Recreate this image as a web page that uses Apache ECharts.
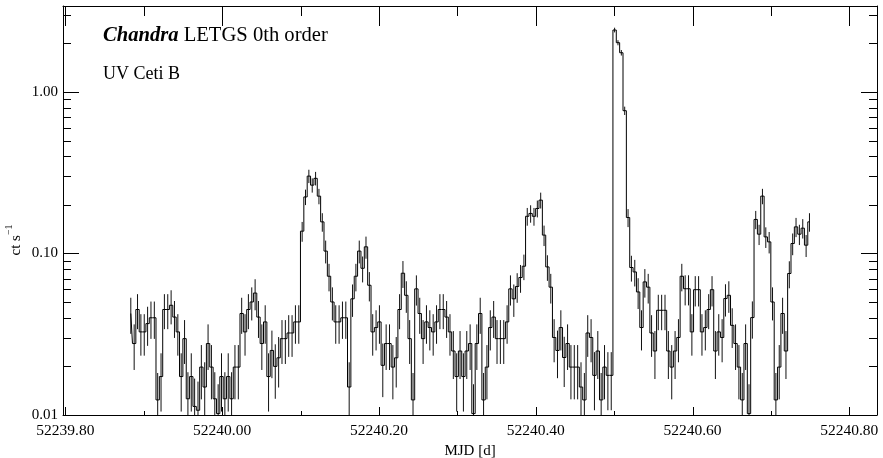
<!DOCTYPE html>
<html>
<head>
<meta charset="utf-8">
<script src="https://cdn.jsdelivr.net/npm/echarts@6.0.0/dist/echarts.min.js"></script>
<style>
  html, body { margin: 0; padding: 0; background: #fff; }
  #chart { width: 883px; height: 458px; }
</style>
</head>
<body>
<div id="chart"></div>
<script>
// ---- axis ranges ----
const X_MIN = 52239.79694;
const X_MAX = 52240.83534;
const Y_MIN = 0.01;
const Y_MAX = 3.408;

// ---- tick values ----
const X_MAJOR = [52239.8, 52240.0, 52240.2, 52240.4, 52240.6, 52240.8];
const X_MINOR = [52239.9, 52240.1, 52240.3, 52240.5, 52240.7];
const Y_MAJOR = [0.01, 0.1, 1];
const Y_MINOR = [0.02, 0.03, 0.04, 0.05, 0.06, 0.07, 0.08, 0.09,
                 0.2, 0.3, 0.4, 0.5, 0.6, 0.7, 0.8, 0.9, 2, 3];

// ---- light-curve bins (MJD of first bin centre, bin width in days) ----
const BIN_START = 52239.88343;
const BIN_WIDTH = 0.004286;

// count rate per bin [ct/s]
const RATE = [
  0.0425,0.0277,0.045,0.0327,0.0327,0.0368,0.040,0.040,0.0124,0.0173,
  0.045,0.045,0.0478,0.0404,0.0327,0.0173,0.0297,0.0126,0.0173,0.0113,
  0.0107,0.0198,0.0149,0.0277,0.0198,0.0126,0.0102,0.0173,0.0126,0.0173,
  0.0126,0.0198,0.0198,0.0425,0.0327,0.045,0.0501,0.0569,0.0404,0.0277,
  0.0377,0.0173,0.0251,0.0200,0.0226,0.0297,0.0297,0.0322,0.0322,0.0377,
  0.0377,0.1375,0.224,0.3015,0.265,0.292,0.2265,0.157,0.1035,0.0723,
  0.0501,0.0377,0.0377,0.040,0.040,0.0149,0.0524,0.0723,0.1035,0.081,
  0.110,0.0636,0.0327,0.0348,0.0377,0.0203,0.0277,0.0277,0.0198,0.0226,
  0.045,0.0755,0.0551,0.0297,0.0124,0.0604,0.0425,0.0297,0.0377,0.0348,
  0.0327,0.0377,0.045,0.045,0.0404,0.0327,0.0249,0.0173,0.0249,0.0173,
  0.0249,0.0277,0.0102,0.0277,0.0425,0.0124,0.0198,0.0348,0.0404,0.0297,
  0.0297,0.0297,0.0377,0.0604,0.0524,0.0625,0.0710,0.0834,0.170,0.177,
  0.170,0.190,0.214,0.130,0.0826,0.0619,0.0302,0.0251,0.0348,0.0227,
  0.0277,0.0198,0.0198,0.0198,0.0149,0.0124,0.0322,0.0302,0.0176,0.0249,
  0.0124,0.0198,0.0176,0.0176,2.42,2.02,1.75,0.766,0.167,0.0819,
  0.0769,0.0578,0.0348,0.0667,0.0619,0.0322,0.0249,0.0445,0.0445,0.0445,
  0.0249,0.0198,0.0249,0.0302,0.0723,0.0605,0.0605,0.0327,0.0597,0.0597,
  0.0327,0.0348,0.045,0.0597,0.0249,0.0327,0.0302,0.0526,0.0551,0.0359,
  0.0277,0.0198,0.0124,0.0277,0.0102,0.0401,0.1625,0.1317,0.2266,0.1267,
  0.118,0.0501,0.0124,0.0198,0.0425,0.0249,0.0752,0.1153,0.1462,0.1317,
  0.1435,0.1126,0.157
];

// 1-sigma uncertainty per bin [ct/s]
const ERR = [
  0.0107,0.0087,0.0110,0.0094,0.0094,0.0100,0.0104,0.0104,0.0058,0.0068,
  0.0110,0.0110,0.0114,0.0104,0.0094,0.0068,0.0090,0.0058,0.0068,0.0055,
  0.0054,0.0073,0.0063,0.0087,0.0073,0.0058,0.0053,0.0068,0.0058,0.0068,
  0.0058,0.0073,0.0073,0.0107,0.0094,0.0110,0.0116,0.0124,0.0104,0.0087,
  0.0101,0.0068,0.0082,0.0074,0.0078,0.0090,0.0090,0.0093,0.0093,0.0101,
  0.0101,0.0193,0.0246,0.0286,0.0268,0.0281,0.0248,0.0206,0.0167,0.0140,
  0.0116,0.0101,0.0101,0.0104,0.0104,0.0063,0.0119,0.0140,0.0167,0.0148,
  0.0172,0.0131,0.0094,0.0097,0.0101,0.0074,0.0087,0.0087,0.0073,0.0078,
  0.0110,0.0143,0.0122,0.0090,0.0058,0.0128,0.0107,0.0090,0.0101,0.0097,
  0.0094,0.0101,0.0110,0.0110,0.0104,0.0094,0.0082,0.0068,0.0082,0.0068,
  0.0082,0.0087,0.0053,0.0087,0.0107,0.0058,0.0073,0.0097,0.0104,0.0090,
  0.0090,0.0090,0.0101,0.0128,0.0119,0.0130,0.0139,0.0150,0.0214,0.0219,
  0.0214,0.0227,0.0241,0.0188,0.0149,0.0129,0.0090,0.0082,0.0097,0.0078,
  0.0087,0.0073,0.0073,0.0073,0.0063,0.0058,0.0093,0.0090,0.0069,0.0082,
  0.0058,0.0073,0.0069,0.0069,0.0809,0.0739,0.0688,0.0455,0.0213,0.0149,
  0.0144,0.0125,0.0097,0.0134,0.0129,0.0093,0.0082,0.0110,0.0110,0.0110,
  0.0082,0.0073,0.0082,0.0090,0.0140,0.0128,0.0128,0.0094,0.0127,0.0127,
  0.0094,0.0097,0.0110,0.0127,0.0082,0.0094,0.0090,0.0119,0.0122,0.0099,
  0.0087,0.0073,0.0058,0.0087,0.0053,0.0104,0.0210,0.0189,0.0248,0.0185,
  0.0179,0.0116,0.0058,0.0073,0.0107,0.0082,0.0143,0.0177,0.0199,0.0189,
  0.0197,0.0175,0.0206
];

const FONT = 'Liberation Serif';

// bin centres on the regular time grid
const TIME = RATE.map((_, i) => BIN_START + i * BIN_WIDTH);
const lcData = TIME.map((t, i) => [t, RATE[i]]);
const errData = TIME.map((t, i) => [t, RATE[i], ERR[i]]);

function tickSeries(data, dx, dy) {
  return {
    type: 'custom',
    coordinateSystem: 'cartesian2d',
    clip: false,
    silent: true,
    z: 5,
    data: data,
    encode: { x: 0, y: 1 },
    renderItem: function (params, api) {
      const p = api.coord([api.value(0), api.value(1)]);
      let x = p[0], y = p[1];
      if (dx === 0) x = Math.round(x) + 0.5; else y = Math.round(y) + 0.5;
      return {
        type: 'line',
        shape: { x1: x, y1: y, x2: x + dx, y2: y + dy },
        style: { stroke: '#000', lineWidth: 1 }
      };
    }
  };
}

function yLabel(v) {
  for (const m of Y_MAJOR) {
    if (Math.abs(Math.log10(v / m)) < 1e-4) return m.toFixed(2);
  }
  return '';
}

const chart = echarts.init(document.getElementById('chart'), null, { renderer: 'canvas' });

const axisLineStyle = { show: true, onZero: false, lineStyle: { color: '#000', width: 1 } };

const option = {
  animation: false,
  backgroundColor: '#ffffff',
  textStyle: { fontFamily: FONT },
  grid: { left: 63, right: 6, top: 6, bottom: 43, containLabel: false, outerBoundsMode: 'none' },
  xAxis: [
    {
      type: 'value', position: 'bottom', min: X_MIN, max: X_MAX,
      axisLine: axisLineStyle,
      axisTick: { show: false },
      splitLine: { show: false },
      axisLabel: {
        customValues: X_MAJOR,
        formatter: v => v.toFixed(2),
        color: '#000', fontSize: 15.5, fontFamily: FONT, margin: 8
      },
      name: 'MJD [d]', nameLocation: 'middle', nameGap: 26,
      nameTextStyle: { color: '#000', fontSize: 15, fontFamily: FONT }
    },
    {
      type: 'value', position: 'top', min: X_MIN, max: X_MAX,
      axisLine: axisLineStyle,
      axisTick: { show: false },
      axisLabel: { show: false },
      splitLine: { show: false }
    }
  ],
  yAxis: [
    {
      type: 'log', logBase: 10, position: 'left', min: Y_MIN, max: Y_MAX,
      axisLine: axisLineStyle,
      axisTick: { show: false },
      minorTick: { show: false },
      splitLine: { show: false },
      axisLabel: {
        formatter: yLabel, showMaxLabel: false,
        color: '#000', fontSize: 15, fontFamily: FONT, margin: 5
      }
    },
    {
      type: 'log', logBase: 10, position: 'right', min: Y_MIN, max: Y_MAX,
      axisLine: axisLineStyle,
      axisTick: { show: false },
      axisLabel: { show: false },
      splitLine: { show: false }
    }
  ],
  graphic: [
    {
      type: 'text', x: 103, y: 36,
      style: {
        text: '{b|Chandra} LETGS 0th order',
        fontSize: 20.6, fontFamily: FONT, fill: '#000',
        verticalAlign: 'middle', align: 'left',
        rich: { b: { fontSize: 20.6, fontFamily: FONT, fontWeight: 'bold', fontStyle: 'italic', fill: '#000' } }
      }
    },
    {
      type: 'text', x: 103, y: 74,
      style: {
        text: 'UV Ceti B', fontSize: 18, fontFamily: FONT, fill: '#000',
        verticalAlign: 'middle', align: 'left'
      }
    },
    {
      type: 'text', x: 14, y: 240, rotation: Math.PI / 2,
      style: {
        text: '{a|ct s}{b|\u22121}',
        fill: '#000', align: 'center', verticalAlign: 'middle',
        rich: {
          a: { fontSize: 15, fontFamily: FONT, lineHeight: 20, verticalAlign: 'bottom', fill: '#000' },
          b: { fontSize: 10, fontFamily: FONT, lineHeight: 20, verticalAlign: 'top', fill: '#000' }
        }
      }
    }
  ],
  series: [
    {
      type: 'custom',
      name: 'errors',
      coordinateSystem: 'cartesian2d',
      clip: true,
      silent: true,
      z: 2,
      data: errData,
      encode: { x: 0, y: 1 },
      renderItem: function (params, api) {
        const t = api.value(0), r = api.value(1), e = api.value(2);
        const top = api.coord([t, r + e]);
        const bot = api.coord([t, r - e]);
        return {
          type: 'line',
          shape: { x1: top[0], y1: top[1], x2: bot[0], y2: bot[1] },
          style: { stroke: '#111', lineWidth: 1 }
        };
      }
    },
    {
      type: 'line',
      name: 'rate',
      data: lcData,
      step: 'middle',
      showSymbol: false,
      symbol: 'none',
      silent: true,
      clip: true,
      z: 3,
      lineStyle: { color: '#000', width: 1 }
    },
    tickSeries(Y_MAJOR.map(v => [X_MIN, v]), 16, 0),
    tickSeries(Y_MINOR.map(v => [X_MIN, v]), 8, 0),
    tickSeries(Y_MAJOR.map(v => [X_MAX, v]), -16, 0),
    tickSeries(Y_MINOR.map(v => [X_MAX, v]), -8, 0),
    tickSeries(X_MAJOR.map(v => [v, Y_MIN]), 0, -8),
    tickSeries(X_MINOR.map(v => [v, Y_MIN]), 0, -4),
    tickSeries(X_MAJOR.map(v => [v, Y_MAX]), 0, 20),
    tickSeries(X_MINOR.map(v => [v, Y_MAX]), 0, 10)
  ]
};

chart.setOption(option);
</script>
</body>
</html>
